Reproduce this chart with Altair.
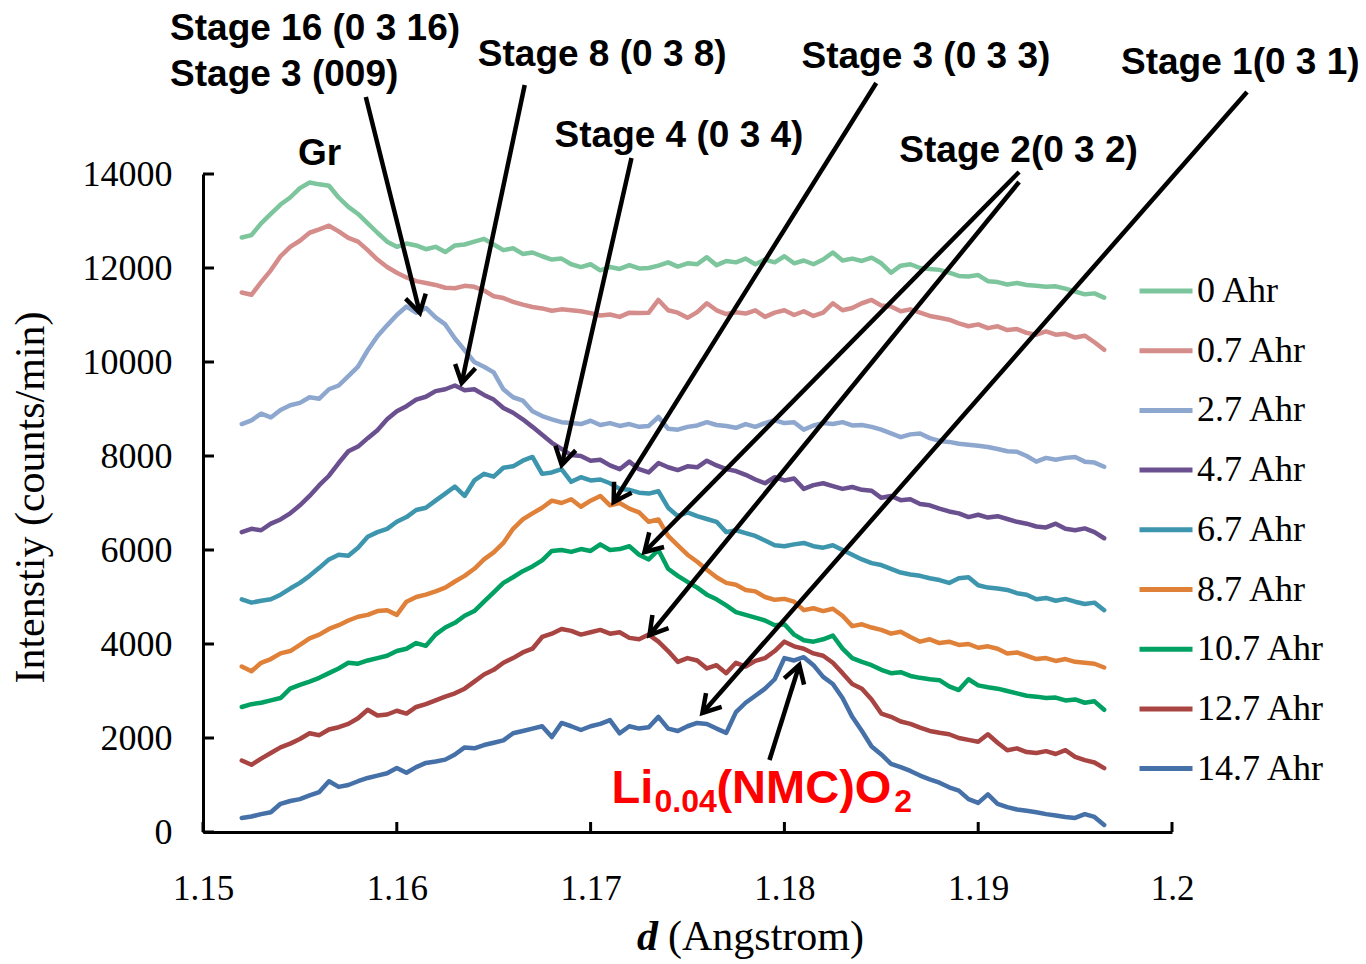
import math
import altair as alt
import pandas as pd

# d-spacing sampling grid (Angstrom)
D_GRID = [round(1.152 + 0.0005 * i, 4) for i in range(90)]

AHR_0 = [12650, 12700, 12950, 13150, 13350, 13500, 13700, 13820, 13780, 13750,
         13500, 13300, 13150, 12950, 12750, 12560, 12450, 12520, 12480, 12400,
         12450, 12340, 12480, 12500, 12560, 12620, 12500, 12380, 12420, 12300,
         12330, 12250, 12180, 12200, 12080, 12020, 12080, 11950, 12020, 11980,
         12060, 11990, 12000, 12050, 12120, 12030, 12100, 12080, 12230, 12060,
         12150, 12120, 12200, 12080, 12180, 12120, 12250, 12100, 12160, 12080,
         12180, 12330, 12160, 12200, 12150, 12220, 12100, 11900, 12050, 12080,
         12000, 11980, 11960, 11900, 11830, 11820, 11850, 11720, 11700, 11650,
         11680, 11640, 11620, 11600, 11610, 11560, 11500, 11440, 11460, 11370]

AHR_0_7 = [11480, 11430, 11700, 11950, 12250, 12450, 12580, 12750, 12820, 12900,
           12780, 12640, 12560, 12380, 12180, 12020, 11900, 11800, 11720, 11680,
           11640, 11580, 11570, 11620, 11600, 11520, 11400, 11360, 11280, 11220,
           11170, 11140, 11090, 11120, 11100, 11080, 11040, 10990, 11010, 10960,
           11050, 11040, 11050, 11320, 11100, 11050, 10940, 11060, 11250, 11100,
           11020, 11060, 11030, 11100, 10960, 11050, 11100, 11000, 11080, 10980,
           11050, 11250, 11100, 11150, 11250, 11320, 11200, 11180, 11080, 11120,
           11050, 10980, 10940, 10900, 10820, 10760, 10800, 10720, 10760, 10680,
           10700, 10620, 10580, 10650, 10580, 10600, 10520, 10560, 10420, 10260]

AHR_2_7 = [8680, 8760, 8900, 8820, 8980, 9080, 9130, 9250, 9220, 9420,
           9500, 9700, 9900, 10250, 10550, 10780, 11000, 11180, 11050, 11150,
           10950, 10800, 10500, 10250, 10000, 9900, 9780, 9420, 9250, 9180,
           8950, 8850, 8780, 8720, 8700, 8680, 8750, 8660, 8700, 8640,
           8680, 8620, 8640, 8830, 8580, 8560, 8620, 8650, 8720, 8660,
           8640, 8600, 8680, 8620, 8700, 8760, 8700, 8720, 8560, 8650,
           8700, 8680, 8720, 8650, 8660, 8620, 8560, 8480, 8400, 8460,
           8480, 8380, 8320, 8300, 8260, 8240, 8220, 8190, 8150, 8100,
           8090, 8000, 7880, 7960, 7920, 7960, 7980, 7880, 7860, 7770]

AHR_4_7 = [6380, 6450, 6420, 6560, 6650, 6780, 6950, 7150, 7380, 7580,
           7850, 8100, 8200, 8380, 8550, 8780, 8950, 9060, 9200, 9260,
           9380, 9420, 9500, 9400, 9420, 9300, 9200, 9020, 8920, 8780,
           8620, 8450, 8280, 8150, 8020, 8000, 7900, 7920, 7800, 7720,
           7880, 7720, 7650, 7850, 7760, 7700, 7780, 7760, 7900, 7800,
           7720, 7680, 7600, 7500, 7420, 7550, 7480, 7520, 7300, 7380,
           7420, 7360, 7300, 7340, 7280, 7260, 7110, 7150, 7060, 7080,
           6980, 6950, 6880, 6820, 6780, 6700, 6750, 6690, 6720, 6660,
           6600, 6560, 6500, 6480, 6560, 6450, 6420, 6460, 6380, 6250]

AHR_6_7 = [4950, 4880, 4920, 4950, 5050, 5180, 5300, 5450, 5620, 5800,
           5900, 5880, 6050, 6280, 6380, 6450, 6600, 6700, 6850, 6900,
           7050, 7200, 7350, 7150, 7480, 7620, 7560, 7750, 7780, 7900,
           7980, 7620, 7650, 7720, 7450, 7550, 7480, 7500, 7420, 7300,
           7280, 7220, 7200, 7250, 6900, 6720, 6800, 6720, 6660, 6600,
           6380, 6420, 6360, 6300, 6200, 6100, 6080, 6120, 6150, 6080,
           6050, 6100, 6000, 5900, 5800, 5720, 5680, 5600, 5520, 5480,
           5450, 5400, 5360, 5300, 5400, 5420, 5250, 5200, 5180, 5150,
           5080, 5050, 4950, 4980, 4920, 4960, 4900, 4850, 4880, 4720]

AHR_8_7 = [3520, 3420, 3600, 3680, 3800, 3850, 3980, 4120, 4200, 4320,
           4400, 4500, 4580, 4620, 4700, 4720, 4620, 4900, 5000, 5050,
           5120, 5200, 5330, 5450, 5600, 5800, 5950, 6150, 6450, 6650,
           6780, 6900, 7050, 7000, 7080, 6920, 7050, 7150, 6950, 7000,
           6880, 6800, 6600, 6650, 6300, 6100, 5900, 5750, 5580, 5420,
           5300, 5260, 5150, 5120, 5000, 4940, 4960, 4900, 4720, 4760,
           4700, 4750, 4600, 4380, 4420, 4350, 4300, 4220, 4260, 4150,
           4050, 4100, 4020, 4050, 3980, 4000, 3920, 3950, 3900, 3800,
           3820, 3750, 3680, 3700, 3640, 3680, 3620, 3600, 3580, 3500]

AHR_10_7 = [2660, 2720, 2750, 2800, 2850, 3050, 3130, 3200, 3280, 3380,
            3480, 3600, 3580, 3650, 3700, 3750, 3850, 3900, 4020, 3960,
            4200, 4350, 4450, 4600, 4700, 4900, 5100, 5300, 5420, 5550,
            5650, 5780, 5980, 6000, 5960, 6020, 5980, 6120, 6000, 6020,
            6080, 5900, 5800, 6000, 5600, 5450, 5320, 5200, 5050, 4950,
            4820, 4680, 4620, 4560, 4500, 4400, 4420, 4200, 4080, 4050,
            4100, 4180, 3900, 3700, 3620, 3550, 3450, 3380, 3400, 3320,
            3280, 3250, 3230, 3100, 3020, 3250, 3120, 3080, 3050, 3000,
            2950, 2900, 2880, 2850, 2860, 2800, 2820, 2750, 2780, 2600]

AHR_12_7 = [1520, 1430, 1560, 1680, 1800, 1880, 1980, 2100, 2060, 2180,
            2230, 2300, 2420, 2600, 2480, 2500, 2580, 2520, 2660, 2720,
            2800, 2880, 2950, 3050, 3200, 3350, 3450, 3600, 3700, 3820,
            3900, 4150, 4220, 4320, 4280, 4200, 4250, 4300, 4220, 4250,
            4130, 4100, 4200, 4050, 3850, 3620, 3700, 3650, 3480, 3550,
            3380, 3600, 3520, 3640, 3700, 3850, 4050, 3950, 3900, 3800,
            3750, 3600, 3380, 3150, 3050, 2820, 2520, 2450, 2350, 2300,
            2220, 2150, 2110, 2080, 2000, 1960, 1920, 2080, 1900, 1740,
            1780, 1700, 1680, 1720, 1660, 1740, 1600, 1530, 1480, 1360]

AHR_14_7 = [300, 330, 380, 420, 600, 660, 700, 780, 850, 1080,
            960, 1000, 1080, 1150, 1200, 1250, 1360, 1260, 1380, 1470,
            1500, 1540, 1650, 1800, 1780, 1850, 1900, 1950, 2100, 2150,
            2200, 2250, 2020, 2320, 2250, 2170, 2250, 2300, 2380, 2100,
            2250, 2200, 2230, 2450, 2200, 2150, 2250, 2320, 2300, 2200,
            2110, 2550, 2750, 2900, 3050, 3250, 3700, 3650, 3720, 3550,
            3300, 3150, 2850, 2450, 2150, 1820, 1650, 1450, 1380, 1300,
            1200, 1120, 1050, 950, 880, 700, 620, 800, 600, 530,
            480, 450, 420, 380, 350, 320, 300, 380, 320, 150]

SERIES = ["0 Ahr", "0.7 Ahr", "2.7 Ahr", "4.7 Ahr", "6.7 Ahr",
          "8.7 Ahr", "10.7 Ahr", "12.7 Ahr", "14.7 Ahr"]
VALUES = [AHR_0, AHR_0_7, AHR_2_7, AHR_4_7, AHR_6_7,
          AHR_8_7, AHR_10_7, AHR_12_7, AHR_14_7]
COLORS = ["#7dc59c", "#d48d8b", "#8da7cf", "#6b5090", "#3d96ad",
          "#e0813a", "#00a163", "#a84442", "#4570a8"]

X_TICKS = [1.15, 1.16, 1.17, 1.18, 1.19, 1.20]
Y_TICKS = [0, 2000, 4000, 6000, 8000, 10000, 12000, 14000]

# Annotation arrows: start point -> tip point (d, intensity)
ARROW_START_D = [1.15840, 1.16660, 1.17211, 1.18474, 1.19211, 1.19211, 1.20387, 1.17923]
ARROW_START_I = [15638, 15894, 14340, 15936, 14043, 13830, 15745, 1532]
ARROW_TIP_D = [1.16119, 1.16335, 1.16851, 1.17119, 1.17278, 1.17304, 1.17577, 1.18077]
ARROW_TIP_I = [11043, 9553, 7809, 7021, 5957, 4191, 2532, 3553]

# Stage labels (left edge, baseline)
LABEL_TEXT = ["Stage 16 (0 3 16)", "Stage 3 (009)", "Stage 8 (0 3 8)",
              "Stage 3 (0 3 3)", "Stage 1(0 3 1)", "Stage 4 (0 3 4)",
              "Stage 2(0 3 2)", "Gr"]
LABEL_D = [1.14830, 1.14830, 1.16418, 1.18088, 1.19737, 1.16814, 1.18593, 1.15490]
LABEL_I = [16851, 15872, 16298, 16255, 16128, 14574, 14255, 14191]

# Li0.04(NMC)O2 label pieces: main-size and subscript parts
RED_MAIN_TEXT = ["Li", "(NMC)O"]
RED_MAIN_D = [1.171082, 1.176495]
RED_MAIN_I = [617, 617]
RED_SUB_TEXT = ["0.04", "2"]
RED_SUB_D = [1.173299, 1.185670]
RED_SUB_I = [426, 426]

W, H = 969, 658
D_DOMAIN = [1.15, 1.20]
I_DOMAIN = [0, 14000]
PX_PER_D = W / (D_DOMAIN[1] - D_DOMAIN[0])
PX_PER_I = H / (I_DOMAIN[1] - I_DOMAIN[0])

SERIF = "Liberation Serif"
SANS = "Liberation Sans"

rows = []
for name, vals in zip(SERIES, VALUES):
    for d, v in zip(D_GRID, vals):
        rows.append({"series": name, "d": d, "I": v})
lines_df = pd.DataFrame(rows)

arrows = []
for d0, i0, d1, i1 in zip(ARROW_START_D, ARROW_START_I, ARROW_TIP_D, ARROW_TIP_I):
    dx = (d1 - d0) * PX_PER_D
    dy = -(i1 - i0) * PX_PER_I
    ang = math.degrees(math.atan2(dy, dx)) % 360
    arrows.append({"d": d0, "I": i0, "d2": d1, "I2": i1, "ang": ang})
arrows_df = pd.DataFrame(arrows)

x_axis = alt.Axis(values=X_TICKS, labelExpr="format(datum.value, '.2~f')",
                  ticks=False, grid=False, domainColor="black", domainWidth=3,
                  labelFont=SERIF, labelFontSize=35, labelColor="black",
                  labelPadding=39, labelFlush=False, title=None)
y_axis = alt.Axis(values=Y_TICKS, format="d", ticks=False, grid=False,
                  domainColor="black", domainWidth=3,
                  labelFont=SERIF, labelFontSize=36, labelColor="black",
                  labelPadding=31, labelFlush=False,
                  title="Intenstiy (counts/min)",
                  titleFont=SERIF, titleFontSize=42, titleFontWeight="normal",
                  titleColor="black", titlePadding=30, titleY=323)


def X(field):
    return alt.X(field, type="quantitative",
                 scale=alt.Scale(domain=D_DOMAIN, nice=False, zero=False),
                 axis=x_axis)


def Y(field):
    return alt.Y(field, type="quantitative",
                 scale=alt.Scale(domain=I_DOMAIN, nice=False),
                 axis=y_axis)


lines = alt.Chart(lines_df).mark_line(
    strokeWidth=4.5, strokeCap="round", strokeJoin="round"
).encode(
    x=X("d"),
    y=Y("I"),
    color=alt.Color(
        "series:N",
        scale=alt.Scale(domain=SERIES, range=COLORS),
        legend=alt.Legend(
            orient="none", legendX=934, legendY=88, title=None,
            symbolType="stroke", symbolSize=2809, symbolStrokeWidth=5,
            labelFont=SERIF, labelFontSize=36, labelColor="black",
            labelOffset=2, rowPadding=12.7, padding=0, labelLimit=300,
        ),
    ),
)

x_ticks = alt.Chart(pd.DataFrame({"d": X_TICKS})).mark_rule(
    color="black", strokeWidth=3
).encode(x=X("d"), y=alt.value(H), y2=alt.value(H - 10))

y_ticks = alt.Chart(pd.DataFrame({"I": Y_TICKS})).mark_rule(
    color="black", strokeWidth=3
).encode(y=Y("I"), x=alt.value(0), x2=alt.value(11))

arrow_lines = alt.Chart(arrows_df).mark_rule(
    color="black", strokeWidth=4.5
).encode(x=X("d"), y=Y("I"), x2="d2:Q", y2="I2:Q")

arrow_heads = alt.Chart(arrows_df).mark_point(
    shape="M -1 -0.6 L 0 0 L -1 0.6", filled=False, size=1200,
    strokeWidth=4.5, color="black", opacity=1, strokeJoin="miter"
).encode(x=X("d2"), y=Y("I2"), angle=alt.Angle("ang:Q", scale=None))

stage_labels = alt.Chart(pd.DataFrame({"d": LABEL_D, "I": LABEL_I, "t": LABEL_TEXT})).mark_text(
    font=SANS, fontWeight="bold", fontSize=37, align="left",
    baseline="alphabetic", color="black"
).encode(x=X("d"), y=Y("I"), text="t:N")

red_main = alt.Chart(pd.DataFrame({"d": RED_MAIN_D, "I": RED_MAIN_I, "t": RED_MAIN_TEXT})).mark_text(
    font=SANS, fontWeight="bold", fontSize=47, align="left",
    baseline="alphabetic", color="#ff0000"
).encode(x=X("d"), y=Y("I"), text="t:N")

red_sub = alt.Chart(pd.DataFrame({"d": RED_SUB_D, "I": RED_SUB_I, "t": RED_SUB_TEXT})).mark_text(
    font=SANS, fontWeight="bold", fontSize=32, align="left",
    baseline="alphabetic", color="#ff0000"
).encode(x=X("d"), y=Y("I"), text="t:N")

title_d = alt.Chart(pd.DataFrame({"t": ["d"]})).mark_text(
    font=SERIF, fontStyle="italic", fontWeight="bold", fontSize=42,
    align="left", baseline="alphabetic", color="black"
).encode(x=alt.value(434), y=alt.value(776), text="t:N")

title_rest = alt.Chart(pd.DataFrame({"t": ["(Angstrom)"]})).mark_text(
    font=SERIF, fontSize=42, align="left", baseline="alphabetic", color="black"
).encode(x=alt.value(465), y=alt.value(776), text="t:N")

chart = alt.layer(
    lines, x_ticks, y_ticks, arrow_lines, arrow_heads,
    stage_labels, red_main, red_sub, title_d, title_rest,
).properties(
    width=W, height=H,
    autosize=alt.AutoSizeParams(type="none"),
    padding={"left": 203, "top": 174, "right": 194, "bottom": 132},
    background="white",
).configure_view(strokeWidth=0)

chart.save("out.html", embed_options={"renderer": "svg", "actions": False})
